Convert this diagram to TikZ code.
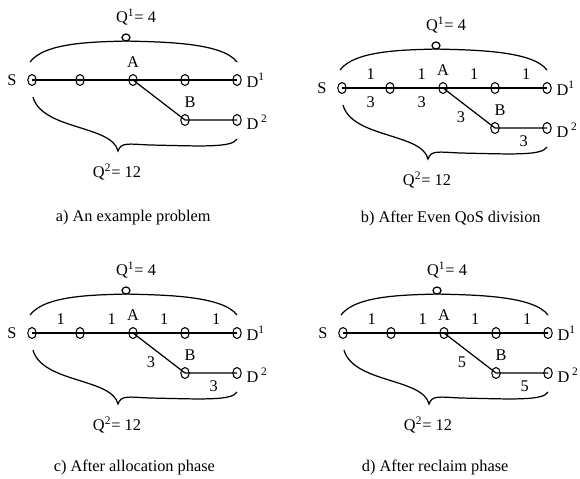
\documentclass[tikz,border=0pt]{standalone}
\usepackage{fontspec}
\setmainfont{Liberation Serif}
\usetikzlibrary{positioning,shapes.geometric}
\tikzset{
  hop/.style={draw,ellipse,minimum width=0.17cm,minimum height=0.22cm,inner sep=0pt,line width=0.6pt},
  lbl/.style={font=\fontsize{9.3}{11}\selectfont,inner sep=2pt},
  link/.style={line width=0.7pt},
  brace/.style={line width=0.7pt},
}
\begin{document}
\begin{tikzpicture}[x=0.02cm,y=-0.02cm]
\useasboundingbox (0,0) rectangle (580,478);
\foreach \p/\dx/\dy/\cx/\cy/\txt in {a/0/0/52/218/{a) An example problem},
  b/310/8/357/218/{b) After Even QoS division},
  c/0/253/50/467/{c) After allocation phase},
  d/311/253/358/467/{d) After reclaim phase}}{
  \begin{scope}[shift={(\dx,\dy)}]
  \node[hop] (\p-S) at (32,80) {};
  \node[hop] (\p-1) at (80,80) {};
  \node[hop] (\p-A) at (133,80) {};
  \node[hop] (\p-3) at (185,80) {};
  \node[hop] (\p-D1) at (237,80) {};
  \node[hop] (\p-B) at (185,120) {};
  \node[hop] (\p-D2) at (237,120) {};
  \draw[link] (\p-S.center) -- (\p-1.center) -- (\p-A.center) -- (\p-3.center) -- (\p-D1.center);
  \draw[link] (\p-A.center) -- (\p-B.center) -- (\p-D2.center);
  \node[lbl,left=0.14cm of \p-S] {S};
  \node[lbl,above=0.05cm of \p-A] {A};
  \node[lbl,above=0.06cm of \p-B,xshift=0.1cm] {B};
  \node[lbl,right=0.02cm of \p-D1] {D\textsuperscript{1}};
  \node[lbl,right=0.02cm of \p-D2,yshift=-0.04cm] {D\,\textsuperscript{2}};
  % the two QoS braces
  \draw[brace] (30,62) .. controls (45,42) and (95,42) .. (126,41) .. controls (160,42) and (222,42) .. (237,62);
  \draw[brace] (126,37.5) ellipse [x radius=0.08cm,y radius=0.07cm];
  \draw[brace] (33,97) .. controls (42,130) and (112,125) .. (118,151) .. controls (121,142) and (128,144) .. (150,145) .. controls (200,146) and (232,148) .. (237,139);
  \node[lbl] (\p-q1) at (136,17) {Q\textsuperscript{1}= 4};
  \node[lbl] (\p-q2) at (117,172) {Q\textsuperscript{2}= 12};
  \end{scope}
  \node[lbl,anchor=west] (\p-cap) at (\cx,\cy) {\txt};
}
\foreach \p in {b,c,d}
  \path (\p-S.center) -- node[lbl,above=0.1cm,pos=.6]{1} (\p-1.center) -- node[lbl,above=0.1cm,pos=.6]{1} (\p-A.center)
    -- node[lbl,above=0.1cm,pos=.6]{1} (\p-3.center) -- node[lbl,above=0.1cm,pos=.6]{1} (\p-D1.center);
\path (b-S.center) -- node[lbl,below=0.1cm,pos=.6]{3} (b-1.center) -- node[lbl,below=0.1cm,pos=.6]{3} (b-A.center);
\foreach \p/\w in {b/3,c/3,d/5}
  \path (\p-A.center) -- node[lbl,below left,pos=.5]{\w} (\p-B.center) -- node[lbl,below=0.08cm,pos=.55]{\w} (\p-D2.center);
\end{tikzpicture}
\end{document}
